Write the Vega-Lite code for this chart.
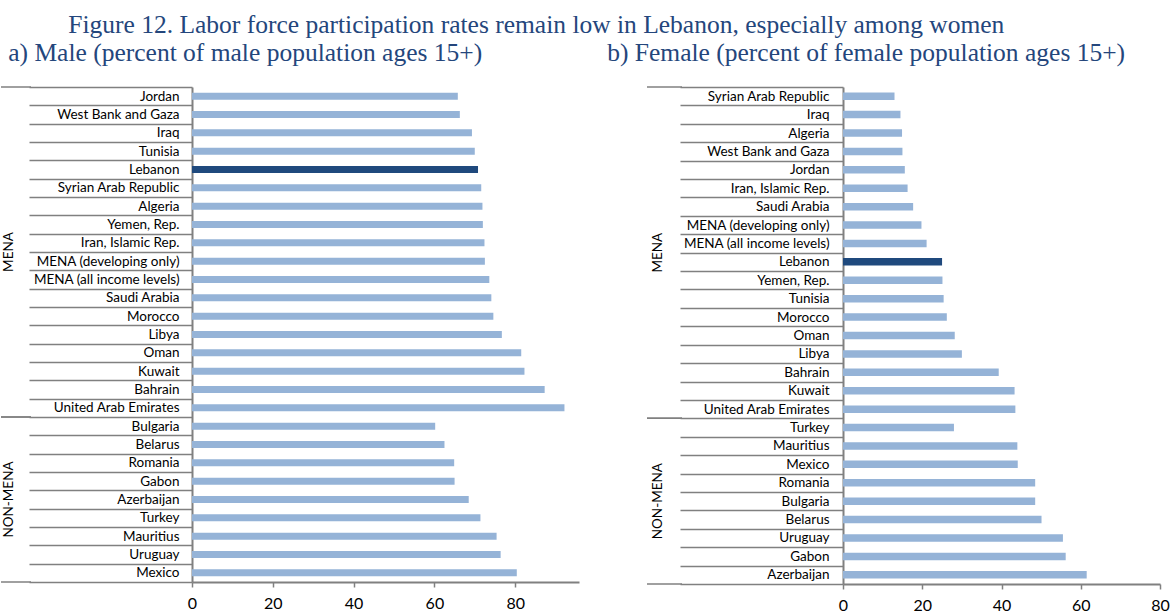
{
  "$schema": "https://vega.github.io/schema/vega-lite/v6.json",
  "padding": {"left": 0, "top": 13, "right": 0, "bottom": 0},
  "background": "white",
  "config": {"view": {"stroke": null}, "font": "Lato"},
  "title": {"text": "Figure 12. Labor force participation rates remain low in Lebanon, especially among women", "font": "Liberation Serif", "fontSize": 25.5, "fontWeight": "normal", "color": "#24467C", "anchor": "start", "dx": 68, "offset": 2},
  "datasets": {
    "male": [
      {"country": "Jordan", "value": 65.8, "group": "MENA"},
      {"country": "West Bank and Gaza", "value": 66.3, "group": "MENA"},
      {"country": "Iraq", "value": 69.3, "group": "MENA"},
      {"country": "Tunisia", "value": 70.0, "group": "MENA"},
      {"country": "Lebanon", "value": 70.8, "group": "MENA"},
      {"country": "Syrian Arab Republic", "value": 71.6, "group": "MENA"},
      {"country": "Algeria", "value": 71.9, "group": "MENA"},
      {"country": "Yemen, Rep.", "value": 72.0, "group": "MENA"},
      {"country": "Iran, Islamic Rep.", "value": 72.4, "group": "MENA"},
      {"country": "MENA (developing only)", "value": 72.5, "group": "MENA"},
      {"country": "MENA (all income levels)", "value": 73.6, "group": "MENA"},
      {"country": "Saudi Arabia", "value": 74.1, "group": "MENA"},
      {"country": "Morocco", "value": 74.6, "group": "MENA"},
      {"country": "Libya", "value": 76.7, "group": "MENA"},
      {"country": "Oman", "value": 81.5, "group": "MENA"},
      {"country": "Kuwait", "value": 82.3, "group": "MENA"},
      {"country": "Bahrain", "value": 87.3, "group": "MENA"},
      {"country": "United Arab Emirates", "value": 92.2, "group": "MENA"},
      {"country": "Bulgaria", "value": 60.2, "group": "NON-MENA"},
      {"country": "Belarus", "value": 62.5, "group": "NON-MENA"},
      {"country": "Romania", "value": 64.9, "group": "NON-MENA"},
      {"country": "Gabon", "value": 65.0, "group": "NON-MENA"},
      {"country": "Azerbaijan", "value": 68.5, "group": "NON-MENA"},
      {"country": "Turkey", "value": 71.4, "group": "NON-MENA"},
      {"country": "Mauritius", "value": 75.4, "group": "NON-MENA"},
      {"country": "Uruguay", "value": 76.4, "group": "NON-MENA"},
      {"country": "Mexico", "value": 80.4, "group": "NON-MENA"}
    ],
    "female": [
      {"country": "Syrian Arab Republic", "value": 13.0, "group": "MENA"},
      {"country": "Iraq", "value": 14.5, "group": "MENA"},
      {"country": "Algeria", "value": 14.9, "group": "MENA"},
      {"country": "West Bank and Gaza", "value": 15.0, "group": "MENA"},
      {"country": "Jordan", "value": 15.6, "group": "MENA"},
      {"country": "Iran, Islamic Rep.", "value": 16.3, "group": "MENA"},
      {"country": "Saudi Arabia", "value": 17.7, "group": "MENA"},
      {"country": "MENA  (developing only)", "value": 19.8, "group": "MENA"},
      {"country": "MENA (all income levels)", "value": 21.1, "group": "MENA"},
      {"country": "Lebanon", "value": 25.0, "group": "MENA"},
      {"country": "Yemen, Rep.", "value": 25.1, "group": "MENA"},
      {"country": "Tunisia", "value": 25.4, "group": "MENA"},
      {"country": "Morocco", "value": 26.2, "group": "MENA"},
      {"country": "Oman", "value": 28.2, "group": "MENA"},
      {"country": "Libya", "value": 30.0, "group": "MENA"},
      {"country": "Bahrain", "value": 39.3, "group": "MENA"},
      {"country": "Kuwait", "value": 43.3, "group": "MENA"},
      {"country": "United Arab Emirates", "value": 43.5, "group": "MENA"},
      {"country": "Turkey", "value": 28.0, "group": "NON-MENA"},
      {"country": "Mauritius", "value": 44.0, "group": "NON-MENA"},
      {"country": "Mexico", "value": 44.1, "group": "NON-MENA"},
      {"country": "Romania", "value": 48.5, "group": "NON-MENA"},
      {"country": "Bulgaria", "value": 48.5, "group": "NON-MENA"},
      {"country": "Belarus", "value": 50.1, "group": "NON-MENA"},
      {"country": "Uruguay", "value": 55.5, "group": "NON-MENA"},
      {"country": "Gabon", "value": 56.2, "group": "NON-MENA"},
      {"country": "Azerbaijan", "value": 61.5, "group": "NON-MENA"}
    ],
    "groups": [
      {"group": "MENA", "start": 0, "end": 18, "mid": 9},
      {"group": "NON-MENA", "start": 18, "end": 27, "mid": 22.5}
    ]
  },
  "spacing": 28,
  "hconcat": [
    {
      "title": {"text": "a) Male (percent of male population ages 15+)", "font": "Liberation Serif", "fontSize": 25.5, "fontWeight": "normal", "color": "#24467C", "anchor": "start", "dx": 8, "offset": 14},
      "spacing": -4,
      "hconcat": [
        {
          "data": {"name": "groups"},
          "width": 30,
          "height": 495,
          "layer": [
            {"mark": {"type": "rule", "color": "#808080", "strokeWidth": 1.5}, "encoding": {"y": {"field": "start", "type": "quantitative", "scale": {"domain": [0, 27], "reverse": true, "nice": false, "zero": false}, "axis": null}}},
            {"mark": {"type": "rule", "color": "#808080", "strokeWidth": 1.5}, "encoding": {"y": {"field": "end", "type": "quantitative", "axis": null}}},
            {"mark": {"type": "text", "angle": 270, "baseline": "bottom", "align": "center", "fontSize": 13.5, "font": "Lato", "color": "#000000"}, "encoding": {"y": {"field": "mid", "type": "quantitative", "axis": null}, "text": {"field": "group"}}}
          ]
        },
        {
          "data": {"name": "male"},
          "width": 387,
          "height": 495,
          "mark": {"type": "bar", "size": 7},
          "encoding": {
            "y": {"field": "country", "type": "nominal", "sort": null, "scale": {"paddingInner": 0, "paddingOuter": 0},
              "axis": {"title": null, "tickBand": "extent", "tickSize": 163, "tickColor": "#808080", "tickWidth": 1.5, "domainColor": "#808080", "domainWidth": 2, "labelPadding": -150, "labelFontSize": 13.5, "labelFont": "Lato", "labelColor": "#000000", "labelLimit": 200}},
            "x": {"field": "value", "type": "quantitative", "scale": {"domain": [0, 95.8], "nice": false},
              "axis": {"title": null, "grid": false, "values": [0, 20, 40, 60, 80], "labelFlush": false, "tickColor": "#808080", "tickSize": 5, "tickWidth": 1.5, "domainColor": "#808080", "domainWidth": 2, "labelFontSize": 16, "labelFont": "Lato", "labelColor": "#000000", "labelPadding": 8}},
            "color": {"condition": {"test": "datum.country === 'Lebanon'", "value": "#1F497D"}, "value": "#95B3D7"}
          }
        }
      ]
    },
    {
      "title": {"text": "b) Female (percent of female population ages 15+)", "font": "Liberation Serif", "fontSize": 25.5, "fontWeight": "normal", "color": "#24467C", "anchor": "start", "dx": -39, "offset": 14},
      "spacing": -4,
      "hconcat": [
        {
          "data": {"name": "groups"},
          "width": 35,
          "height": 497,
          "layer": [
            {"mark": {"type": "rule", "color": "#808080", "strokeWidth": 1.5}, "encoding": {"y": {"field": "start", "type": "quantitative", "scale": {"domain": [0, 27], "reverse": true, "nice": false, "zero": false}, "axis": null}}},
            {"mark": {"type": "rule", "color": "#808080", "strokeWidth": 1.5}, "encoding": {"y": {"field": "end", "type": "quantitative", "axis": null}}},
            {"mark": {"type": "text", "angle": 270, "baseline": "bottom", "align": "center", "fontSize": 13.5, "font": "Lato", "color": "#000000"}, "encoding": {"y": {"field": "mid", "type": "quantitative", "axis": null}, "text": {"field": "group"}}}
          ]
        },
        {
          "data": {"name": "female"},
          "width": 317,
          "height": 497,
          "mark": {"type": "bar", "size": 7.5},
          "encoding": {
            "y": {"field": "country", "type": "nominal", "sort": null, "scale": {"paddingInner": 0, "paddingOuter": 0},
              "axis": {"title": null, "tickBand": "extent", "tickSize": 163, "tickColor": "#808080", "tickWidth": 1.5, "domainColor": "#808080", "domainWidth": 2, "labelPadding": -149, "labelFontSize": 13.5, "labelFont": "Lato", "labelColor": "#000000", "labelLimit": 200}},
            "x": {"field": "value", "type": "quantitative", "scale": {"domain": [0, 80], "nice": false},
              "axis": {"title": null, "grid": false, "values": [0, 20, 40, 60, 80], "labelFlush": false, "tickColor": "#808080", "tickSize": 5, "tickWidth": 1.5, "domainColor": "#808080", "domainWidth": 2, "labelFontSize": 16, "labelFont": "Lato", "labelColor": "#000000", "labelPadding": 8}},
            "color": {"condition": {"test": "datum.country === 'Lebanon'", "value": "#1F497D"}, "value": "#95B3D7"}
          }
        }
      ]
    }
  ]
}
